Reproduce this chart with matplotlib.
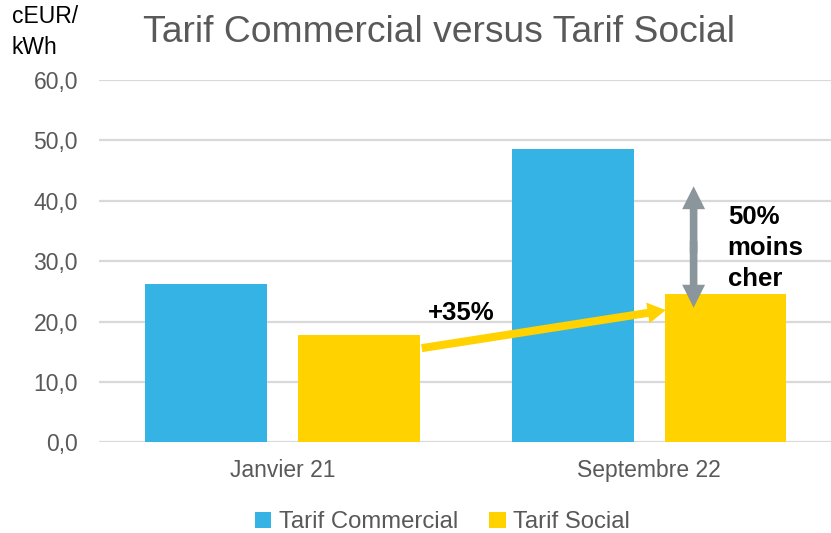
#! /usr/bin/env python

# tarif commercial vs tarif social, bar chart

import numpy as np
import matplotlib
matplotlib.use('Agg')
import matplotlib.pyplot as plt
from matplotlib.ticker import FuncFormatter

plt.rcParams['font.family'] = ['Liberation Sans', 'DejaVu Sans']

categories = ['Janvier 21', 'Septembre 22']
commercial = [26.2, 48.5]
social = [17.8, 24.6]
series_names = ['Tarif Commercial', 'Tarif Social']
yticks = [0, 10, 20, 30, 40, 50, 60]

blue = '#35B3E4'
yellow = '#FFD200'
grey_txt = '#595959'

fig = plt.figure(figsize=(8.31, 5.33), dpi=100)
ax = fig.add_axes([0.119, 0.170, 0.883, 0.680])

x = np.arange(len(categories))
w = 0.332
off = 0.208
ax.bar(x - off, commercial, w, color=blue, label=series_names[0], zorder=3)
ax.bar(x + off, social, w, color=yellow, label=series_names[1], zorder=3)

ax.set_xlim(-0.5, 1.5)
ax.set_ylim(0, 60)
ax.set_yticks(yticks)
ax.yaxis.set_major_formatter(FuncFormatter(lambda v, p: ('%.1f' % v).replace('.', ',')))
ax.set_xticks(x)
ax.set_xticklabels(categories)
ax.grid(axis='y', color='#D9D9D9', lw=1.6, zorder=0)
for s in ax.spines.values():
    s.set_visible(False)
ax.tick_params(axis='both', length=0, labelsize=16.5, labelcolor=grey_txt)
ax.tick_params(axis='y', pad=15)
ax.tick_params(axis='x', pad=12)

# +35% arrow between the social bars
ax.annotate('', xy=(1.045, 21.9), xytext=(0.38, 15.6),
            arrowprops=dict(facecolor=yellow, edgecolor='none', width=5.8,
                            headwidth=15, headlength=13, shrink=0), zorder=4)
ax.text(0.396, 20.3, '+35%', fontsize=18.5, fontweight='bold', color='black',
        va='baseline', ha='left', zorder=5)

# double arrow commercial vs social
mid = 32.3
for yend, ystart in ((42.4, mid - 1), (22.3, mid + 1)):
    ax.annotate('', xy=(1.121, yend), xytext=(1.121, ystart),
                arrowprops=dict(facecolor='#8A959C', edgecolor='none', width=5.5,
                                headwidth=16.5, headlength=16.5, shrink=0), zorder=4)
ax.text(1.214, 39.3, '50%\nmoins\ncher', fontsize=18.5, fontweight='bold',
        color='black', va='top', ha='left', linespacing=1.37, zorder=5)

fig.text(0.172, 0.921, 'Tarif Commercial versus Tarif Social', fontsize=26.8,
         color=grey_txt, va='baseline', ha='left')
fig.text(0.014, 0.99, 'cEUR/\nkWh', fontsize=16.5, color='black', va='top',
         ha='left', linespacing=1.45)

fig.legend(loc='center', bbox_to_anchor=(0.532, 0.02), ncol=2, frameon=False,
           fontsize=17.2, handlelength=0.7, handleheight=0.7, handletextpad=0.3,
           columnspacing=1.3, labelcolor=grey_txt)

plt.savefig('out.png', dpi=100)
